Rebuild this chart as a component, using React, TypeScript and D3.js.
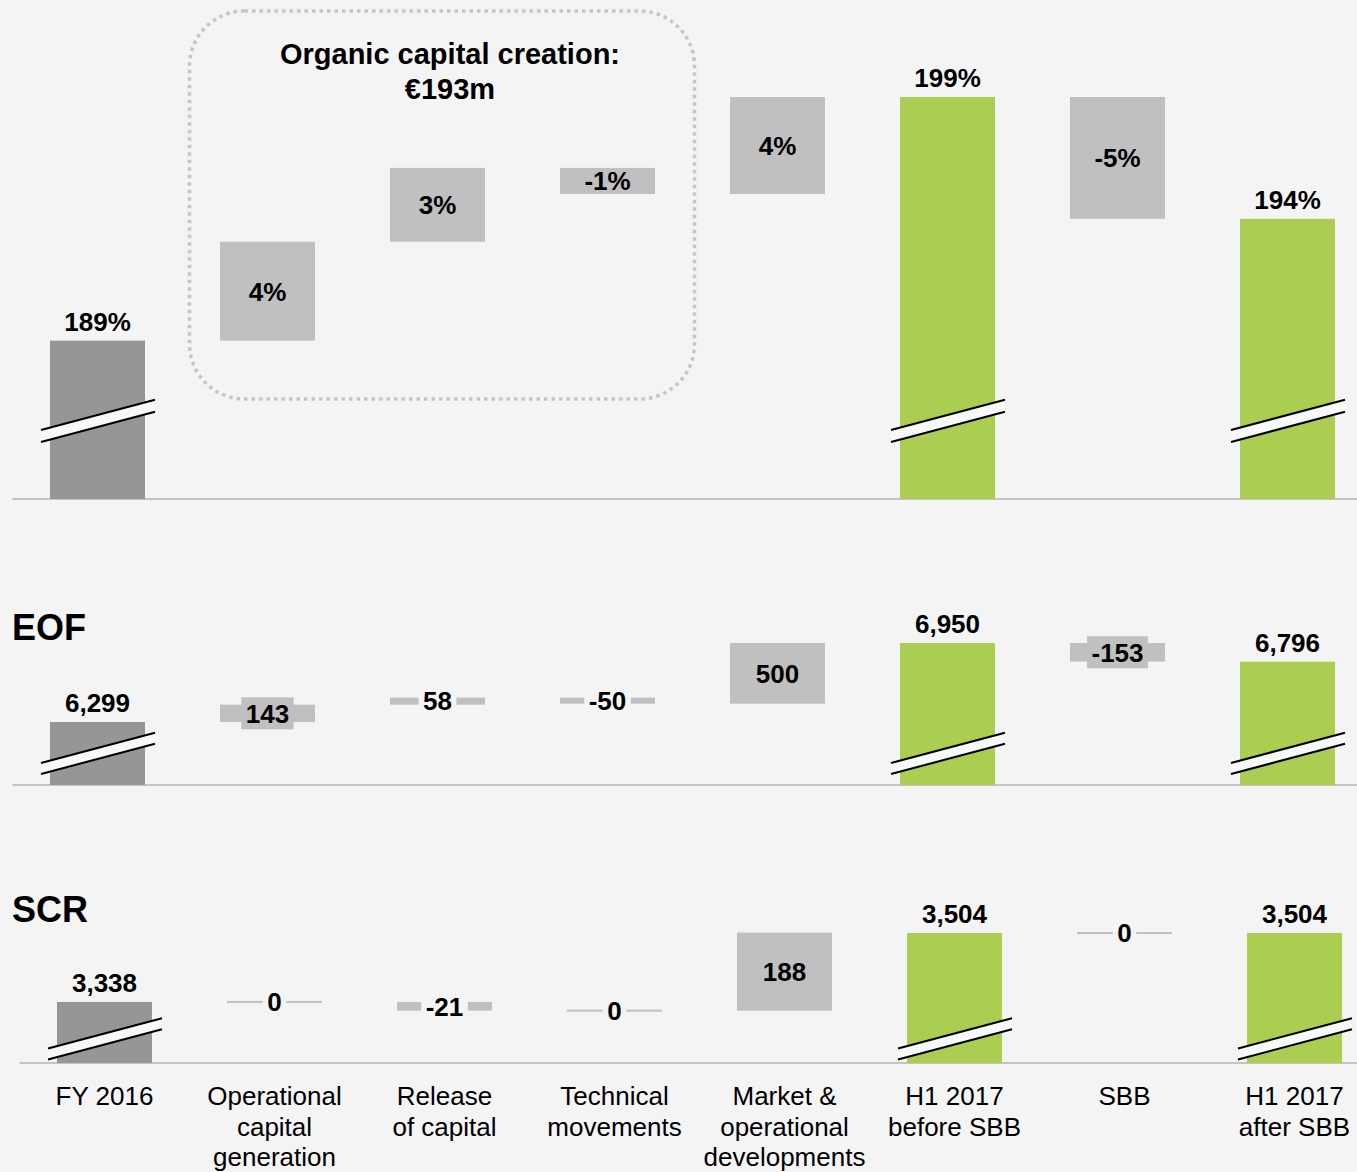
import React from 'react';
import * as d3 from 'd3';

// ---------- data ----------
const categoryLines: string[][] = [
  ['FY 2016'],
  ['Operational', 'capital', 'generation'],
  ['Release', 'of capital'],
  ['Technical', 'movements'],
  ['Market &', 'operational', 'developments'],
  ['H1 2017', 'before SBB'],
  ['SBB'],
  ['H1 2017', 'after SBB'],
];
const categories = categoryLines.map((l) => l.join(' '));
const barKinds = ['start', 'delta', 'delta', 'delta', 'delta', 'total', 'delta', 'total'];

const solvencyValues = [189, 4.06, 3.03, -1.07, 3.98, 199, -5.0, 194];
const solvencyLabels = ['189%', '4%', '3%', '-1%', '4%', '199%', '-5%', '194%'];

const eofValues = [6299, 143, 58, -50, 500, 6950, -153, 6796];
const eofLabels = ['6,299', '143', '58', '-50', '500', '6,950', '-153', '6,796'];

const scrValues = [3338, 0, -21, 0, 188, 3504, 0, 3504];
const scrLabels = ['3,338', '0', '-21', '0', '188', '3,504', '0', '3,504'];

const boxTitleLines = ['Organic capital creation:', '€193m'];

// ---------- style ----------
const W = 1357;
const H = 1172;
const BG = '#f4f4f4';
const FONT = "'Liberation Sans', Arial, Helvetica, sans-serif";
const COLORS: Record<string, string> = { start: '#969696', delta: '#c0c0c0', total: '#abcd52' };

let measureCtx: CanvasRenderingContext2D | null = null;
function textWidth(t: string, font: string) {
  if (!measureCtx) measureCtx = document.createElement('canvas').getContext('2d');
  if (!measureCtx) return t.length * 14;
  measureCtx.font = font;
  return measureCtx.measureText(t).width;
}

interface PanelCfg {
  key: string;
  values: number[];
  labels: string[];
  domain: [number, number];
  range: [number, number];
  xStart: number;
  breakAbove: number;
  breakGap: number;
  title?: string;
  titleY?: number;
}

const panels: PanelCfg[] = [
  { key: 'solv', values: solvencyValues, labels: solvencyLabels, domain: [182.5, 199], range: [499, 97], xStart: 12.5, breakAbove: 78, breakGap: 12 },
  { key: 'eof', values: eofValues, labels: eofLabels, domain: [5780, 6950], range: [785, 643], xStart: 12.5, breakAbove: 31.5, breakGap: 11, title: 'EOF', titleY: 640 },
  { key: 'scr', values: scrValues, labels: scrLabels, domain: [3191, 3504], range: [1063, 933], xStart: 19.5, breakAbove: 24, breakGap: 11, title: 'SCR', titleY: 922 },
];

function Panel({ cfg, showCategories }: { cfg: PanelCfg; showCategories: boolean }) {
  const x = d3
    .scaleBand<string>()
    .domain(categories)
    .range([cfg.xStart, cfg.xStart + 1360])
    .paddingInner(75 / 170)
    .paddingOuter(37.5 / 170);
  const y = d3.scaleLinear().domain(cfg.domain).range(cfg.range);
  const floor = cfg.domain[0];
  const baseY = y(floor);

  let running = 0;
  const bars = cfg.values.map((v, i) => {
    const kind = barKinds[i];
    let v0: number, v1: number;
    if (kind === 'delta') {
      v0 = running;
      v1 = running + v;
      running = v1;
    } else {
      v0 = floor;
      v1 = v;
      running = v;
    }
    const yA = y(v0);
    const yB = y(v1);
    const top = Math.min(yA, yB);
    const h = Math.abs(yA - yB);
    return { i, kind, cat: categories[i], label: cfg.labels[i], top, h, v1 };
  });

  const bw = x.bandwidth();
  const labelFont = `bold 26px ${FONT}`;
  const slope = 0.265;

  return (
    <g>
      {cfg.title && (
        <text x={12} y={cfg.titleY} fontFamily={FONT} fontWeight="bold" fontSize={36} fill="#000">
          {cfg.title}
        </text>
      )}
      <line x1={cfg.xStart} x2={W} y1={baseY} y2={baseY} stroke="#c4c4c4" strokeWidth={2} />
      {bars.map((b) => {
        const x0 = x(b.cat) as number;
        const cx = x0 + bw / 2;
        const color = COLORS[b.kind];
        const h = Math.max(b.h, 2);
        const top = b.h < 2 ? b.top - 1 : b.top;
        const els: React.ReactNode[] = [];
        els.push(<rect key="bar" x={x0} y={top} width={bw} height={h} fill={color} />);
        if (b.kind !== 'delta') {
          const yc = baseY - cfg.breakAbove;
          const g = cfg.breakGap / 2;
          const xl = x0 - 9;
          const xr = x0 + bw + 10;
          const yAt = (xx: number, off: number) => yc + off - slope * (xx - cx);
          els.push(
            <polygon
              key="brk"
              points={`${xl},${yAt(xl, -g)} ${xr},${yAt(xr, -g)} ${xr},${yAt(xr, g)} ${xl},${yAt(xl, g)}`}
              fill="#f8f8f8"
            />,
            <line key="l1" x1={xl} y1={yAt(xl, -g)} x2={xr} y2={yAt(xr, -g)} stroke="#000" strokeWidth={2} />,
            <line key="l2" x1={xl} y1={yAt(xl, g)} x2={xr} y2={yAt(xr, g)} stroke="#000" strokeWidth={2} />,
          );
          els.push(
            <text key="lbl" x={cx} y={b.top - 10} textAnchor="middle" fontFamily={FONT} fontWeight="bold" fontSize={26} fill="#000">
              {b.label}
            </text>,
          );
        } else {
          const mid = b.top + b.h / 2;
          if (b.h < 24) {
            const tw = textWidth(b.label, labelFont);
            els.push(
              <rect
                key="lblbg"
                x={cx - tw / 2 - 4.5}
                y={mid - 16}
                width={tw + 9}
                height={32}
                fill={b.h >= 12 ? color : BG}
              />,
            );
          }
          els.push(
            <text key="lbl" x={cx} y={mid} dy="0.36em" textAnchor="middle" fontFamily={FONT} fontWeight="bold" fontSize={26} fill="#000">
              {b.label}
            </text>,
          );
        }
        return <g key={b.i}>{els}</g>;
      })}
      {showCategories &&
        categoryLines.map((lines, i) => {
          const cx = (x(categories[i]) as number) + bw / 2;
          return (
            <text key={'c' + i} textAnchor="middle" fontFamily={FONT} fontSize={26} fill="#000">
              {lines.map((ln, j) => (
                <tspan key={j} x={cx} y={1105 + j * 30.5}>
                  {ln}
                </tspan>
              ))}
            </text>
          );
        })}
    </g>
  );
}

export default function App() {
  return (
    <div style={{ position: 'absolute', left: 0, top: 0, width: W, height: H, background: BG, overflow: 'hidden' }}>
      <svg width={W} height={H} viewBox={`0 0 ${W} ${H}`} style={{ display: 'block' }}>
        <rect x={0} y={0} width={W} height={H} fill={BG} />
        <rect
          x={189.5}
          y={11}
          width={505}
          height={388}
          rx={55}
          ry={55}
          fill="none"
          stroke="#c6c6c6"
          strokeWidth={3.5}
          strokeDasharray="3.5 4"
        />
        <text textAnchor="middle" fontFamily={FONT} fontWeight="bold" fontSize={29} fill="#000">
          <tspan x={450} y={64}>{boxTitleLines[0]}</tspan>
          <tspan x={450} y={99}>{boxTitleLines[1]}</tspan>
        </text>
        {panels.map((p, i) => (
          <Panel key={p.key} cfg={p} showCategories={i === panels.length - 1} />
        ))}
      </svg>
    </div>
  );
}
